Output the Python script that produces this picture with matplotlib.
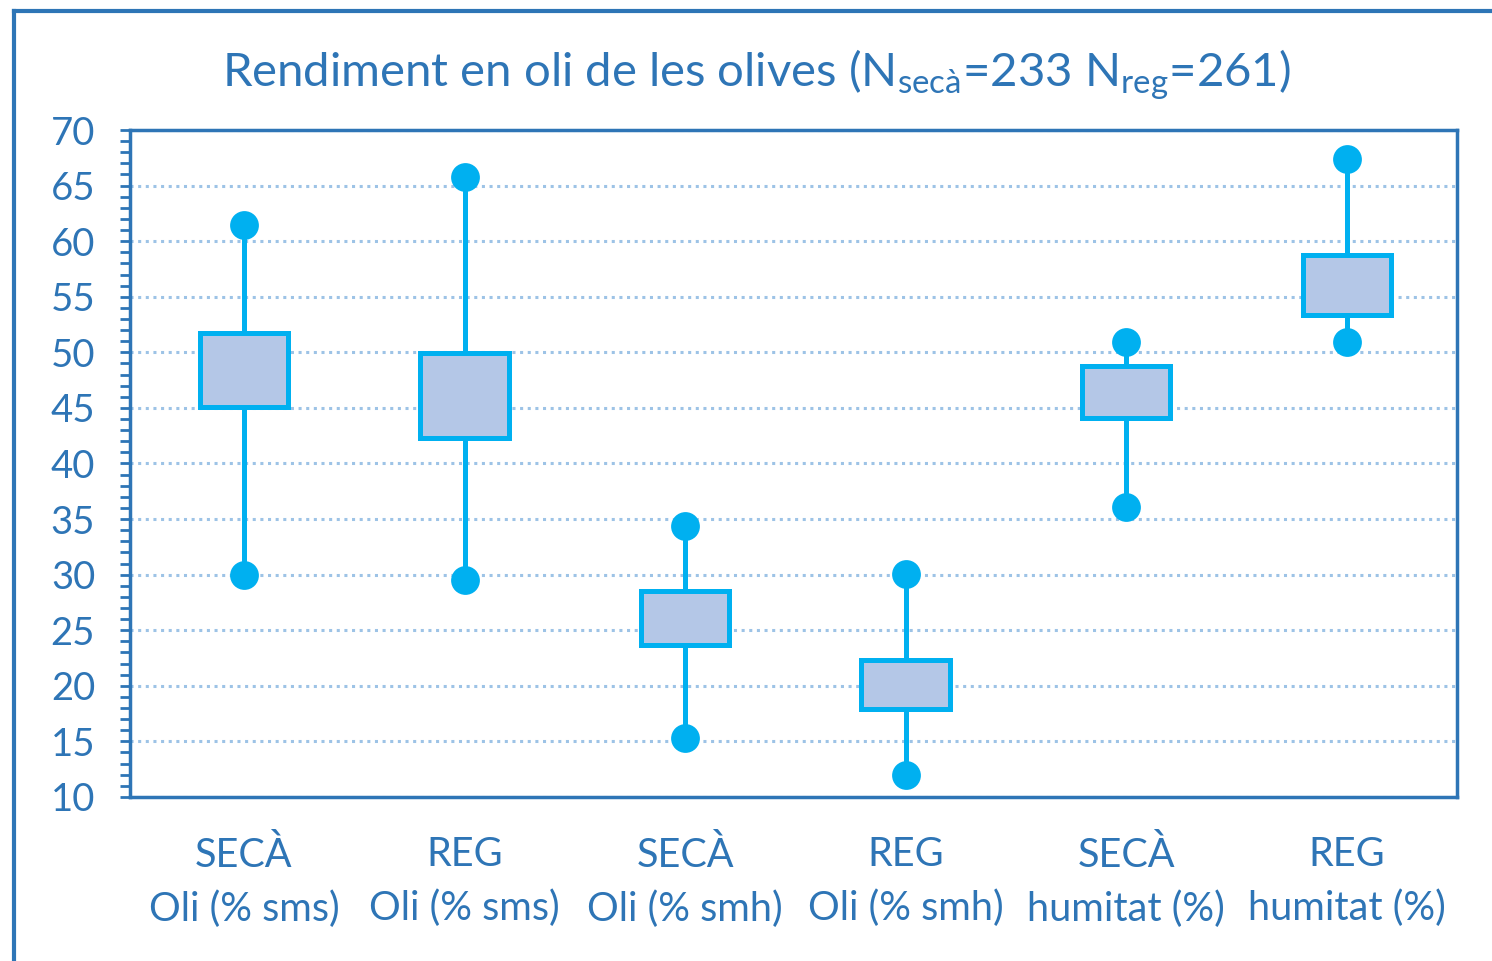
import matplotlib.pyplot as plt
from matplotlib.lines import Line2D
from matplotlib.ticker import MultipleLocator

# Data
groups = ['SECÀ', 'REG', 'SECÀ', 'REG', 'SECÀ', 'REG']
variables = ['Oli (% sms)', 'Oli (% sms)', 'Oli (% smh)', 'Oli (% smh)', 'humitat (%)', 'humitat (%)']
mins = [30.0, 29.5, 15.3, 12.0, 36.1, 50.9]
q1 = [45.1, 42.3, 23.7, 17.9, 44.1, 53.4]
q3 = [51.7, 49.9, 28.5, 22.3, 48.8, 58.8]
maxs = [61.5, 65.8, 34.4, 30.1, 50.9, 67.4]

dark_blue = '#2E75B6'
cyan = '#00B0F0'
fill = '#B4C7E7'
grid_col = '#9DC3E6'

plt.rcParams['font.family'] = ['Lato', 'DejaVu Sans']

fig = plt.figure(figsize=(14.92, 9.61), dpi=100)
ax = fig.add_axes([0.0871, 0.1707, 0.9765 - 0.0871, 0.8647 - 0.1707])

stats = []
for i in range(len(groups)):
    stats.append({'whislo': mins[i], 'q1': q1[i], 'med': (q1[i] + q3[i]) / 2,
                  'q3': q3[i], 'whishi': maxs[i], 'fliers': []})

pos = list(range(len(groups)))
ax.bxp(stats, positions=pos, widths=0.4, patch_artist=True, showcaps=False,
       showfliers=False,
       boxprops=dict(facecolor=fill, edgecolor=cyan, linewidth=3.6),
       whiskerprops=dict(color=cyan, linewidth=3.6),
       medianprops=dict(visible=False), zorder=3)
ax.scatter(pos, mins, s=430, color=cyan, zorder=4, linewidths=0)
ax.scatter(pos, maxs, s=430, color=cyan, zorder=4, linewidths=0)

ax.set_xlim(-0.517, 5.5)
ax.set_ylim(10, 70)
ax.yaxis.set_major_locator(MultipleLocator(5))
ax.yaxis.set_minor_locator(MultipleLocator(1))
ax.grid(axis='y', color=grid_col, linestyle=(0, (1, 1.5)), linewidth=2.2, zorder=0)
ax.set_axisbelow(True)

for s in ax.spines.values():
    s.set_color(dark_blue)
    s.set_linewidth(2.5)

ax.tick_params(axis='y', which='both', direction='out', color=dark_blue,
               length=7, width=2, labelcolor=dark_blue, labelsize=27.5, pad=18)
ax.tick_params(axis='x', length=0, labelcolor=dark_blue, labelsize=28.5, pad=28)
ax.set_xticks(pos)
ax.set_xticklabels([g + '\n' + v for g, v in zip(groups, variables)], linespacing=1.55)

fig.text(0.507, 0.922, r'Rendiment en oli de les olives (N$_{\mathregular{secà}}$=233 N$_{\mathregular{reg}}$=261)',
         ha='center', va='center', color=dark_blue, fontsize=34)

# outer chart frame
fig.add_artist(Line2D([0.0094, 0.0094], [0, 0.9885], transform=fig.transFigure,
                      color=dark_blue, linewidth=3))
fig.add_artist(Line2D([0.0094, 1.0], [0.9885, 0.9885], transform=fig.transFigure,
                      color=dark_blue, linewidth=3))

fig.savefig('out.png', dpi=100)
